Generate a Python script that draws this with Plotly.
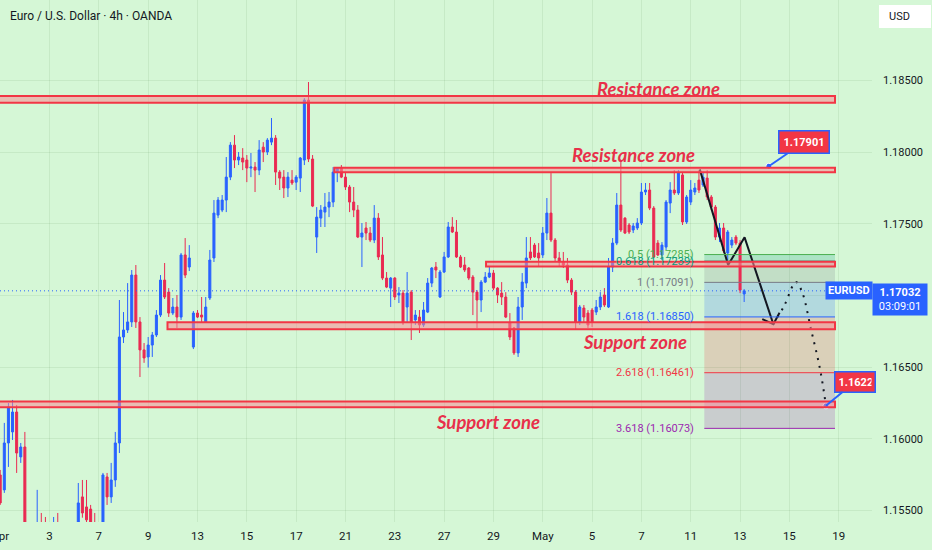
import plotly.graph_objects as go

# EURUSD 4h candles (bar index 0 = Apr 1)
opens = [1.15748, 1.15644, 1.15971, 1.16048, 1.16187, 1.15874, 1.15943, 1.15330, 1.15200, 1.15300,
         1.15380, 1.15180, 1.15080, 1.15250, 1.15350, 1.15200, 1.15050, 1.15220, 1.15120, 1.15350,
         1.15595, 1.15525, 1.15510, 1.15400, 1.15300, 1.15350, 1.15734, 1.15595, 1.15713, 1.15971,
         1.16710, 1.16759, 1.16815, 1.17142, 1.16815, 1.16620, 1.16571, 1.16654, 1.16724, 1.16863,
         1.17107, 1.17023, 1.16877, 1.16919, 1.16849, 1.17282, 1.17198, 1.16640, 1.16877, 1.16863,
         1.16815, 1.16982, 1.17261, 1.17560, 1.17595, 1.17665, 1.17825, 1.18048, 1.17944, 1.17958,
         1.17944, 1.17888, 1.17895, 1.17874, 1.18034, 1.18000, 1.18069, 1.18097, 1.17860, 1.17825,
         1.17749, 1.17804, 1.17790, 1.17818, 1.17944, 1.18362, 1.17951, 1.17407, 1.17539, 1.17581,
         1.17616, 1.17651, 1.17860, 1.17888, 1.17825, 1.17756, 1.17651, 1.17595, 1.17407, 1.17470,
         1.17435, 1.17386, 1.17539, 1.17282, 1.17121, 1.17051, 1.17121, 1.17003, 1.17016, 1.16919,
         1.17023, 1.16829, 1.16849, 1.16794, 1.16884, 1.17086, 1.17198, 1.16989, 1.17163, 1.17268,
         1.17477, 1.17442, 1.17268, 1.17212, 1.17191, 1.17128, 1.17023, 1.16968, 1.17093, 1.17128,
         1.17156, 1.17051, 1.17016, 1.16989, 1.16808, 1.16773, 1.16599, 1.16919, 1.17086, 1.17303,
         1.17351, 1.17296, 1.17282, 1.17435, 1.17574, 1.17386, 1.17261, 1.17233, 1.17212, 1.17107,
         1.17023, 1.16815, 1.16912, 1.16877, 1.16898, 1.16884, 1.16919, 1.17003, 1.16919, 1.17198,
         1.17365, 1.17630, 1.17539, 1.17491, 1.17456, 1.17470, 1.17505, 1.17721, 1.17735, 1.17609,
         1.17365, 1.17282, 1.17337, 1.17644, 1.17735, 1.17714, 1.17840, 1.17512, 1.17651, 1.17721,
         1.17804, 1.17770, 1.17818, 1.17686, 1.17616, 1.17407, 1.17470, 1.17296, 1.17351, 1.17407,
         1.17365, 1.17010]
highs = [1.15783, 1.16111, 1.16250, 1.16271, 1.16236, 1.15971, 1.16048, 1.15380, 1.15350, 1.15644,
         1.15483, 1.15455, 1.15350, 1.15455, 1.15483, 1.15320, 1.15300, 1.15350, 1.15400, 1.15692,
         1.15713, 1.15713, 1.15539, 1.15483, 1.15380, 1.15762, 1.15762, 1.15832, 1.16048, 1.16968,
         1.16884, 1.17086, 1.17177, 1.17212, 1.16849, 1.16668, 1.16710, 1.16745, 1.16898, 1.17142,
         1.17226, 1.17051, 1.16982, 1.17003, 1.17296, 1.17400, 1.17351, 1.16891, 1.16898, 1.16989,
         1.16989, 1.17317, 1.17665, 1.17686, 1.17700, 1.17965, 1.18069, 1.18118, 1.18000, 1.18027,
         1.17979, 1.17993, 1.17930, 1.18083, 1.18069, 1.18097, 1.18237, 1.18118, 1.17874, 1.17874,
         1.17860, 1.17874, 1.17839, 1.17965, 1.18376, 1.18488, 1.17979, 1.17616, 1.17630, 1.17714,
         1.17721, 1.17895, 1.17895, 1.17909, 1.17853, 1.17770, 1.17756, 1.17630, 1.17505, 1.17512,
         1.17477, 1.17630, 1.17574, 1.17407, 1.17163, 1.17128, 1.17128, 1.17058, 1.17037, 1.17163,
         1.17037, 1.16898, 1.16898, 1.16954, 1.17121, 1.17198, 1.17233, 1.17177, 1.17303, 1.17512,
         1.17546, 1.17526, 1.17282, 1.17268, 1.17198, 1.17142, 1.17037, 1.17107, 1.17163, 1.17198,
         1.17177, 1.17058, 1.17093, 1.17023, 1.16877, 1.16780, 1.16989, 1.17156, 1.17407, 1.17407,
         1.17365, 1.17365, 1.17477, 1.17679, 1.17853, 1.17400, 1.17303, 1.17303, 1.17261, 1.17121,
         1.17037, 1.16933, 1.16933, 1.16898, 1.16912, 1.16968, 1.17023, 1.17051, 1.17261, 1.17400,
         1.17714, 1.17944, 1.17546, 1.17505, 1.17505, 1.17539, 1.17784, 1.17784, 1.17784, 1.17623,
         1.17386, 1.17372, 1.17665, 1.17790, 1.17874, 1.17874, 1.17860, 1.17700, 1.17804, 1.17784,
         1.17874, 1.17860, 1.17874, 1.17700, 1.17630, 1.17505, 1.17505, 1.17456, 1.17407, 1.17421,
         1.17386, 1.17044]
lows = [1.15539, 1.15623, 1.15804, 1.15992, 1.15762, 1.15832, 1.15300, 1.15150, 1.15050, 1.15250,
        1.15100, 1.15000, 1.14950, 1.15150, 1.15120, 1.14980, 1.14950, 1.15050, 1.15080, 1.15300,
        1.15450, 1.15350, 1.15300, 1.15200, 1.15150, 1.15300, 1.15539, 1.15553, 1.15665, 1.15901,
        1.16668, 1.16738, 1.16780, 1.16773, 1.16431, 1.16530, 1.16497, 1.16571, 1.16710, 1.16849,
        1.16975, 1.16850, 1.16863, 1.16773, 1.16829, 1.17121, 1.17170, 1.16626, 1.16842, 1.16808,
        1.16808, 1.16968, 1.17233, 1.17539, 1.17581, 1.17581, 1.17804, 1.17888, 1.17909, 1.17874,
        1.17790, 1.17825, 1.17721, 1.17839, 1.17930, 1.17979, 1.18048, 1.17770, 1.17735, 1.17679,
        1.17686, 1.17770, 1.17735, 1.17721, 1.17909, 1.17930, 1.17616, 1.17296, 1.17477, 1.17477,
        1.17546, 1.17616, 1.17790, 1.17818, 1.17735, 1.17581, 1.17546, 1.17400, 1.17198, 1.17386,
        1.17372, 1.17365, 1.17247, 1.17107, 1.17051, 1.16919, 1.16968, 1.16947, 1.16794, 1.16815,
        1.16689, 1.16794, 1.16738, 1.16780, 1.16877, 1.17058, 1.17121, 1.16982, 1.17156, 1.17261,
        1.17435, 1.17261, 1.17191, 1.17163, 1.17107, 1.16863, 1.16773, 1.16884, 1.17086, 1.17121,
        1.17037, 1.16947, 1.16933, 1.16842, 1.16689, 1.16585, 1.16571, 1.16829, 1.17051, 1.17247,
        1.17261, 1.17198, 1.17261, 1.17386, 1.17372, 1.17233, 1.17198, 1.17191, 1.17086, 1.17003,
        1.16759, 1.16794, 1.16815, 1.16773, 1.16780, 1.16863, 1.16898, 1.16919, 1.16912, 1.17163,
        1.17351, 1.17442, 1.17428, 1.17428, 1.17435, 1.17456, 1.17491, 1.17700, 1.17595, 1.17261,
        1.17275, 1.17247, 1.17317, 1.17574, 1.17700, 1.17700, 1.17491, 1.17498, 1.17630, 1.17700,
        1.17714, 1.17756, 1.17665, 1.17595, 1.17386, 1.17372, 1.17296, 1.17247, 1.17330, 1.17351,
        1.17016, 1.16954]
closes = [1.15553, 1.15971, 1.16222, 1.16187, 1.15901, 1.15943, 1.15330, 1.15200, 1.15300, 1.15380,
          1.15180, 1.15080, 1.15250, 1.15350, 1.15200, 1.15050, 1.15220, 1.15120, 1.15350, 1.15553,
          1.15483, 1.15435, 1.15400, 1.15300, 1.15350, 1.15748, 1.15595, 1.15713, 1.15971, 1.16710,
          1.16759, 1.16815, 1.17142, 1.16815, 1.16620, 1.16564, 1.16654, 1.16724, 1.16863, 1.17107,
          1.16989, 1.16877, 1.16919, 1.16849, 1.17282, 1.17142, 1.17261, 1.16877, 1.16849, 1.16849,
          1.16919, 1.17247, 1.17574, 1.17665, 1.17665, 1.17825, 1.18048, 1.17944, 1.17965, 1.17930,
          1.17888, 1.17895, 1.17874, 1.18014, 1.18000, 1.18083, 1.18097, 1.17860, 1.17818, 1.17749,
          1.17825, 1.17784, 1.17825, 1.17958, 1.18362, 1.17951, 1.17623, 1.17546, 1.17595, 1.17616,
          1.17651, 1.17860, 1.17888, 1.17825, 1.17756, 1.17651, 1.17595, 1.17407, 1.17435, 1.17435,
          1.17386, 1.17539, 1.17268, 1.17121, 1.17058, 1.17121, 1.16989, 1.17016, 1.16808, 1.17016,
          1.16815, 1.16863, 1.16794, 1.16898, 1.17086, 1.17191, 1.17177, 1.17163, 1.17268, 1.17477,
          1.17442, 1.17268, 1.17198, 1.17177, 1.17121, 1.17023, 1.16968, 1.17093, 1.17128, 1.17156,
          1.17051, 1.17003, 1.16989, 1.16849, 1.16710, 1.16599, 1.16919, 1.17093, 1.17261, 1.17261,
          1.17268, 1.17261, 1.17435, 1.17574, 1.17386, 1.17261, 1.17233, 1.17212, 1.17107, 1.17023,
          1.16815, 1.16919, 1.16849, 1.16794, 1.16815, 1.16919, 1.16989, 1.16933, 1.17198, 1.17365,
          1.17630, 1.17456, 1.17435, 1.17442, 1.17484, 1.17505, 1.17721, 1.17735, 1.17609, 1.17268,
          1.17282, 1.17351, 1.17651, 1.17735, 1.17714, 1.17853, 1.17512, 1.17686, 1.17735, 1.17749,
          1.17735, 1.17825, 1.17686, 1.17616, 1.17407, 1.17470, 1.17310, 1.17442, 1.17386, 1.17365,
          1.17037, 1.17032]
bars = list(range(len(opens)))
last_price = 1.17032

# date labels every 12 bars (2 trading days)
date_ticks = list(range(0, 205, 12))
date_labels = ["Apr", "3", "7", "9", "13", "15", "17", "21", "23", "27", "29",
               "May", "5", "7", "11", "13", "15", "19"]
price_ticks = [1.155, 1.160, 1.165, 1.170, 1.175, 1.180, 1.185]

# drawn zones
zone_low = [1.18344, 1.17859, 1.17201, 1.16764, 1.16220]
zone_high = [1.18390, 1.17891, 1.17235, 1.16813, 1.16260]
zone_start = [-1, 81.3, 118.2, 40.7, -1]
zone_end = 203.1
zone_text = ["Resistance zone", "Resistance zone", "Support zone", "Support zone"]
zone_text_x = [160.1, 154.1, 154.5, 118.6]
zone_text_y = [1.18439, 1.17979, 1.16675, 1.16117]

# fib extension
fib_levels = ["0.5", "0.618", "1", "1.618", "2.618", "3.618"]
fib_prices = [1.17285, 1.17239, 1.17091, 1.16850, 1.16461, 1.16073]
fib_colors = ["#4caf50", "#089981", "#787b86", "#2962ff", "#f23645", "#9c27b0"]
fib_fills = ["rgba(8,153,129,0.2)", "rgba(120,123,134,0.2)", "rgba(41,98,255,0.2)",
             "rgba(242,54,69,0.2)", "rgba(156,39,176,0.2)"]
fib_x0, fib_x1 = 171.3, 203.1

# projected path drawn on the chart
path_x = [170.2, 177.1, 181.1, 188.1]
path_y = [1.17879, 1.17212, 1.17405, 1.16799]
head_x = [185.4, 188.1, 189.6]
head_y = [1.16835, 1.16799, 1.16879]
dots_x = [188.1, 190.7, 193.6, 195.1, 197.3, 199.5, 200.9]
dots_y = [1.16799, 1.16926, 1.17093, 1.17023, 1.16759, 1.16480, 1.16230]
callout_x = [187.0, 200.9]
callout_y = [1.17901, 1.16230]
callout_text = ["1.17901", "1.16224"]

BG = "#d5f7d6"
GRID = "rgba(0,70,0,0.07)"
BLUE = "#2962ff"
RED = "#ea2a52"
INK = "#131722"

fig = go.Figure()

fig.add_trace(go.Candlestick(
    x=bars, open=opens, high=highs, low=lows, close=closes,
    increasing=dict(line=dict(color=BLUE, width=1), fillcolor=BLUE),
    decreasing=dict(line=dict(color=RED, width=1), fillcolor=RED),
    hoverinfo="skip", showlegend=False,
))

# current price line
fig.add_hline(y=last_price, line=dict(color=BLUE, width=1, dash="1px,3px"))

# fib bands and lines
for i in range(len(fib_prices) - 1):
    fig.add_shape(type="rect", x0=fib_x0, x1=fib_x1, y0=fib_prices[i + 1], y1=fib_prices[i],
                  fillcolor=fib_fills[i], line_width=0, layer="below")
for lvl, p, c in zip(fib_levels, fib_prices, fib_colors):
    fig.add_shape(type="line", x0=fib_x0, x1=fib_x1, y0=p, y1=p, line=dict(color=c, width=1))
    fig.add_annotation(x=fib_x0 - 2, y=p, text=f"{lvl} ({p:.5f})", showarrow=False,
                       xanchor="right", yanchor="middle",
                       font=dict(family="Roboto", size=11, color=c))

# zones
for lo, hi, x0 in zip(zone_low, zone_high, zone_start):
    fig.add_shape(type="rect", x0=x0, x1=zone_end, y0=lo, y1=hi,
                  fillcolor="rgba(250,140,150,0.55)", line=dict(color="#f23645", width=2),
                  layer="above")
for t, x, y in zip(zone_text, zone_text_x, zone_text_y):
    fig.add_annotation(x=x, y=y, text=f"<b><i>{t}</i></b>", showarrow=False,
                       font=dict(family="Lato", size=18.5, color="#e8304a"))

# arrows
fig.add_trace(go.Scatter(x=path_x, y=path_y, mode="lines", line=dict(color=INK, width=2),
                         hoverinfo="skip", showlegend=False))
fig.add_trace(go.Scatter(x=head_x, y=head_y, mode="lines", line=dict(color=INK, width=2),
                         hoverinfo="skip", showlegend=False))
fig.add_trace(go.Scatter(x=dots_x, y=dots_y, mode="lines",
                         line=dict(color=INK, width=2, dash="2px,6px", shape="spline"),
                         hoverinfo="skip", showlegend=False))
fig.add_trace(go.Scatter(x=callout_x, y=callout_y, mode="markers",
                         marker=dict(color=BLUE, size=6, line=dict(color="white", width=1)),
                         hoverinfo="skip", showlegend=False))

# callouts
fig.add_annotation(x=callout_x[0], y=callout_y[0], text=f"<b>{callout_text[0]}</b>",
                   ax=35, ay=-24, showarrow=True, arrowhead=0, arrowwidth=2, arrowcolor=BLUE,
                   bgcolor="#f23645", bordercolor=BLUE, borderwidth=1.5, borderpad=4,
                   font=dict(family="Roboto", size=11, color="white"))
fig.add_annotation(x=callout_x[1], y=callout_y[1], text=f"<b>{callout_text[1]}</b>",
                   ax=29, ay=-24, showarrow=True, arrowhead=0, arrowwidth=2, arrowcolor=BLUE,
                   bgcolor="#f23645", bordercolor=BLUE, borderwidth=1.5, borderpad=3,
                   width=33, align="left",
                   font=dict(family="Roboto", size=11, color="white"))

# price scale labels
fig.add_annotation(xref="paper", x=848.5 / 872, y=last_price, text="<b>EURUSD</b>",
                   showarrow=False, xanchor="center", yanchor="middle",
                   bgcolor=BLUE, borderpad=2, font=dict(family="Roboto", size=11, color="white"))
fig.add_annotation(xref="paper", x=900 / 872, y=last_price, yshift=8,
                   text=f"<b>{last_price:.5f}</b><br>03:09:01", showarrow=False,
                   xanchor="center", yanchor="top", bgcolor=BLUE, borderpad=2, width=50,
                   font=dict(family="Roboto", size=11, color="white"))

# header text and currency box
fig.add_annotation(xref="paper", yref="paper", x=8 / 872, y=1 - 16 / 522,
                   text="Euro / U.S. Dollar · 4h · OANDA", showarrow=False,
                   xanchor="left", yanchor="middle",
                   font=dict(family="Roboto", size=12, color=INK))
fig.add_shape(type="rect", xref="paper", yref="paper", x0=879 / 872, x1=931 / 872,
              y0=1 - 28 / 522, y1=1 - 5 / 522, fillcolor="white", line_width=0)
fig.add_annotation(xref="paper", yref="paper", x=887 / 872, y=1 - 16.5 / 522, text="USD",
                   showarrow=False, xanchor="left", yanchor="middle",
                   font=dict(family="Roboto", size=11, color=INK))

fig.update_layout(
    width=932, height=550,
    margin=dict(l=0, r=60, t=0, b=28, autoexpand=False),
    paper_bgcolor=BG, plot_bgcolor=BG,
    showlegend=False,
    xaxis=dict(range=[-0.05, 212.1], tickvals=date_ticks, ticktext=date_labels,
               showgrid=True, gridcolor=GRID, zeroline=False, showline=False,
               rangeslider=dict(visible=False), ticklabeloverflow="allow", automargin=False,
               ticklabelstandoff=5,
               tickfont=dict(family="Roboto", size=11.5, color=INK), fixedrange=True),
    yaxis=dict(range=[1.15420, 1.19060], side="right", tickvals=price_ticks,
               tickformat=".5f", showgrid=True, gridcolor=GRID, zeroline=False,
               showline=False, ticklabelstandoff=10, automargin=False,
               tickfont=dict(family="Roboto", size=11, color=INK), fixedrange=True),
)

# page body has a default 8px margin; drop it so the figure fills the window
fig.write_html("out.html", config={"displayModeBar": False},
               post_script="document.body.style.margin='0';")
